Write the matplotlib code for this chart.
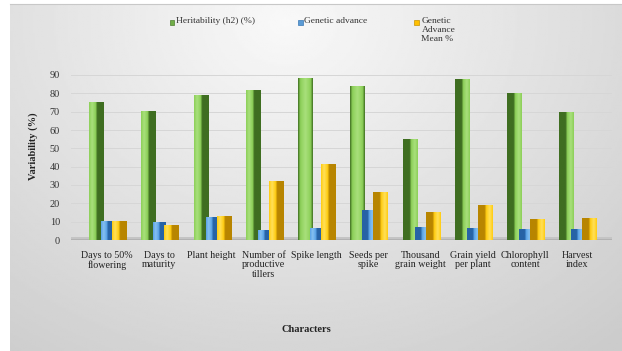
import numpy as np
import matplotlib
matplotlib.use("Agg")
import matplotlib.pyplot as plt
from matplotlib.colors import LinearSegmentedColormap
from matplotlib.patches import Rectangle

# ---------------- data ----------------
categories = ["Days to 50%\nflowering", "Days to\nmaturity", "Plant height",
              "Number of\nproductive\ntillers", "Spike length", "Seeds per\nspike",
              "Thousand\ngrain weight", "Grain yield\nper plant", "Chlorophyll\ncontent",
              "Harvest\nindex"]
heritability = [75.5, 70.5, 79.0, 81.8, 88.2, 84.0, 55.0, 87.6, 80.4, 69.7]
genetic_advance = [10.4, 9.6, 12.7, 5.5, 6.7, 16.4, 7.3, 6.4, 5.8, 6.0]
ga_mean = [10.5, 8.0, 13.3, 32.4, 41.3, 26.4, 15.1, 19.1, 11.3, 12.0]
series_names = ["Heritability (h2) (%)", "Genetic advance", "Genetic\nAdvance\nMean %"]
yticks = [0, 10, 20, 30, 40, 50, 60, 70, 80, 90]

FONT = ["Liberation Serif", "DejaVu Serif"]
plt.rcParams["font.family"] = FONT

W, H = 622, 351
fig = plt.figure(figsize=(W / 100, H / 100), dpi=100)
fig.patch.set_facecolor("white")

# ---------------- background gradient ----------------
bg = fig.add_axes([10 / W, 0, 1 - 10 / W, (H - 4) / H])
bg.set_axis_off()
gx, gy = np.meshgrid(np.linspace(0, 1, 300), np.linspace(0, 1, 200))
d = np.sqrt(((gx - 0.45) / 0.75) ** 2 + ((gy - 0.05) / 1.1) ** 2)
val = np.clip(0.975 - 0.16 * d, 0.80, 0.975)
bg.imshow(val, cmap="gray", vmin=0, vmax=1, aspect="auto", extent=[0, 1, 1, 0])
bg.set_xlim(0, 1); bg.set_ylim(1, 0)
fig.add_artist(plt.Line2D([10 / W, 1], [(H - 4) / H, (H - 4) / H],
                          transform=fig.transFigure, color="#c8c8c8", lw=0.8))

# ---------------- main axes ----------------
ax = fig.add_axes([71 / W, (H - 240) / H, 541 / W, 165 / H])
ax.patch.set_alpha(0)
x = np.arange(len(categories))
xlim = (-0.69, 9.66)


def shade(bars, light, hi, dark, mode):
    for i, b in enumerate(bars):
        bx, bw, bh = b.get_x(), b.get_width(), b.get_height()
        m = mode(i)
        if m == "L":
            cols, pos = [light, hi, light, dark, dark], [0, 0.2, 0.45, 0.55, 1]
        elif m == "R":
            cols, pos = [dark, dark, light, hi, light], [0, 0.45, 0.55, 0.8, 1]
        else:
            cols, pos = [dark, light, hi, light, dark], [0, 0.15, 0.5, 0.85, 1]
        cm = LinearSegmentedColormap.from_list("c", list(zip(pos, cols)))
        grad = np.linspace(0, 1, 64).reshape(1, -1)
        im = ax.imshow(grad, cmap=cm, extent=[bx, bx + bw, 0, bh], aspect="auto",
                       zorder=b.get_zorder(), interpolation="bilinear")
        im.set_clip_path(b)
        b.set_facecolor("none")


mode_g = lambda i: "L" if i < 4 else ("C" if i < 6 else "R")
mode_b = lambda i: "L" if i < 5 else "R"

bg_g = ax.bar(x - 0.21, heritability, width=0.27, color="#92d050", zorder=3, lw=0)
bg_b = ax.bar(x, genetic_advance, width=0.23, color="#5b9bd5", zorder=4, lw=0)
bg_y = ax.bar(x + 0.23, ga_mean, width=0.27, color="#ffc000", zorder=5, lw=0)
shade(bg_g, "#8ccf58", "#a9e07c", "#3f6e21", mode_g)
shade(bg_b, "#5aa3e6", "#86c0f0", "#2763a6", mode_b)
shade(bg_y, "#ffcc10", "#ffe05a", "#b88500", mode_b)

ax.set_xlim(*xlim)
ax.set_ylim(0, 90)
ax.set_yticks(yticks)
ax.set_yticklabels([str(v) for v in yticks], fontsize=7.4, color="#333333")
ax.set_xticks(x)
ax.set_xticklabels(categories, fontsize=7.2, color="#222222", linespacing=1.05)
ax.tick_params(axis="both", length=0)
ax.tick_params(axis="y", pad=8)
ax.tick_params(axis="x", pad=8)
for s in ax.spines.values():
    s.set_visible(False)
ax.yaxis.grid(True, color="#d6d6d6", lw=0.7, zorder=0)
ax.set_axisbelow(True)
# 3-D style floor
ax.axhspan(0, 1.4, color="#c4c4c4", zorder=1, lw=0)
ax.axhline(0, color="#6a6a6a", lw=1.0, zorder=2)

fig.text(33 / W, 1 - 146 / H, "Variability (%)", rotation=90, ha="center", va="center",
         fontsize=7.5, fontweight="bold", color="#222222")
fig.text(306 / W, 1 - 329 / H, "Characters", ha="center", va="center",
         fontsize=7.5, fontweight="bold", color="#222222")

# ---------------- legend ----------------
leg_x = [172, 300, 417]
leg_cols = ["#70ad47", "#5b9bd5", "#ffc000"]
leg_edge = ["#4e7f30", "#3a78b5", "#c89200"]
for lx, name, c, e in zip(leg_x, series_names, leg_cols, leg_edge):
    fig.add_artist(Rectangle(((lx - 2.5) / W, 1 - 24.5 / H), 5 / W, 5 / H,
                             transform=fig.transFigure, facecolor=c, edgecolor=e, lw=0.5))
    fig.text((lx + 4.5) / W, 1 - 17 / H, name, ha="left", va="top", fontsize=6.8,
             color="#333333", linespacing=1.15)

fig.savefig("out.png", dpi=100)
